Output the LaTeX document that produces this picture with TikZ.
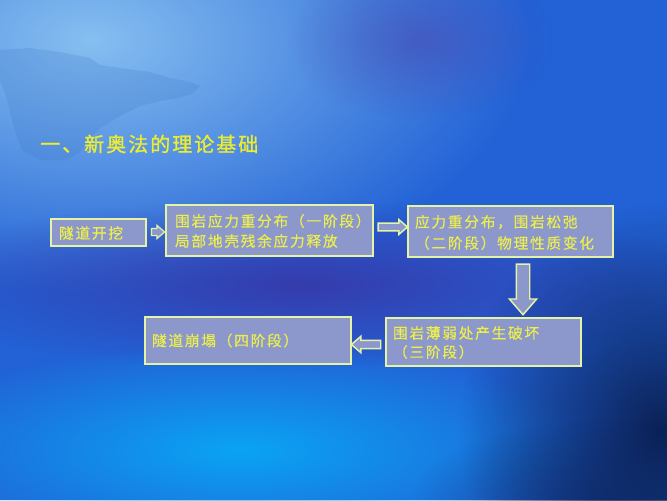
\documentclass[tikz,border=0pt]{standalone}
\usepackage{fontspec}
\setmainfont{Noto Sans CJK SC}
\newfontfamily\boxfont[LetterSpace=12,FakeBold=0.5]{Noto Sans CJK SC}
\newfontfamily\titlefont[LetterSpace=10,FakeBold=1.2]{Noto Sans CJK SC}
\usetikzlibrary{shapes.arrows,calc,fadings}
\tikzfading[name=softblob, inner color=transparent!0, outer color=transparent!100]
\definecolor{bgbase}{HTML}{2262D6}
\definecolor{bglight}{HTML}{8CC4F2}
\definecolor{bgpurple}{HTML}{3838A8}
\definecolor{bgpurple2}{HTML}{4650B8}
\definecolor{bgcyan}{HTML}{0AA4F4}
\definecolor{bgdark}{HTML}{0A1E50}
\definecolor{boxfill}{HTML}{8C98CC}
\definecolor{edgecol}{HTML}{E4F4A4}
\definecolor{txtcol}{HTML}{ECEE4C}
\definecolor{titlecol}{HTML}{ECEC30}
\definecolor{mapcol}{HTML}{3A74C4}
\tikzset{
  x=0.75pt, y=-0.75pt,
  stagebox/.style={draw=edgecol, fill=boxfill, line width=1.8pt, inner sep=0pt},
  lbl/.style={anchor=west, inner sep=0pt, text=txtcol, font=\boxfont\fontsize{11pt}{13pt}\selectfont},
  hollowarrow/.style={single arrow, draw=edgecol, fill=boxfill, line width=1.1pt, single arrow tip angle=82},
  blob/.style={path fading=softblob}
}
\begin{document}
\begin{tikzpicture}
% background
\useasboundingbox (0,0) rectangle (667,500);
\fill[bgbase] (0,0) rectangle (667,500);
\begin{scope}
\clip (0,0) rectangle (667,500);
\fill[bglight, blob, fill opacity=0.95] (90,40) ellipse [x radius=330pt, y radius=190pt];
\fill[bgpurple2, blob, fill opacity=0.7] (420,40) ellipse [x radius=100pt, y radius=60pt];
\fill[bgpurple, blob, fill opacity=0.9] (300,285) ellipse [x radius=310pt, y radius=65pt];
\fill[bgcyan, blob, fill opacity=1] (240,450) ellipse [x radius=270pt, y radius=80pt];
\fill[bgdark, blob, fill opacity=0.95] (660,430) ellipse [x radius=150pt, y radius=170pt];
\fill[bgdark, blob, fill opacity=0.5] (600,500) ellipse [x radius=140pt, y radius=60pt];
% faint map silhouette
\fill[mapcol, fill opacity=0.2] (0,50) -- (30,48) -- (60,52) -- (90,58) -- (100,65) -- (120,68)
  -- (150,72) -- (170,78) -- (190,82) -- (200,86) -- (192,94) -- (178,98) -- (160,101)
  -- (140,106) -- (120,116) -- (100,128) -- (88,140) -- (80,152) -- (66,160) -- (40,160)
  -- (22,150) -- (14,128) -- (6,96) -- (0,80) -- cycle;
\end{scope}
% title
\node[anchor=west, inner sep=0pt, text=titlecol, font=\titlefont\fontsize{15pt}{18pt}\selectfont] (title) at (40,144) {一、新奥法的理论基础};
% boxes
\node[stagebox, minimum width=71.25pt, minimum height=20.25pt] (A) at (98.5,232.5) {};
\node[stagebox, minimum width=155.25pt, minimum height=38.25pt] (B) at (269.5,230.5) {};
\node[stagebox, minimum width=153.75pt, minimum height=38.25pt] (C) at (510.5,231.5) {};
\node[stagebox, minimum width=146.25pt, minimum height=36pt] (D) at (483.5,342) {};
\node[stagebox, minimum width=154.5pt, minimum height=35.25pt] (E) at (248,340.5) {};
% labels
\node[lbl] (tA) at ($(A.west)+(9,0.5)$) {隧道开挖};
\node[lbl] (tB1) at ($(B.west)+(10,-9.5)$) {围岩应力重分布（一阶段）};
\node[lbl] (tB2) at ($(B.west)+(10,10.5)$) {局部地壳残余应力释放};
\node[lbl] (tC1) at ($(C.west)+(8,-9.5)$) {应力重分布，围岩松弛};
\node[lbl] (tC2) at ($(C.west)+(8,11.5)$) {（二阶段）物理性质变化};
\node[lbl] (tD1) at ($(D.west)+(8,-9)$) {围岩薄弱处产生破坏};
\node[lbl] (tD2) at ($(D.west)+(8,10)$) {（三阶段）};
\node[lbl] (tE) at ($(E.west)+(8,0)$) {隧道崩塌（四阶段）};
% connectors
\node[hollowarrow, inner xsep=0pt, minimum height=9.75pt, inner ysep=2.25pt, single arrow head extend=2.25pt, line width=0.9pt]
  (aAB) at ($(A.east)!0.5!(B.west |- A.east)+(0,-0.5)$) {};
\node[hollowarrow, inner xsep=0pt, minimum height=22pt, inner ysep=2.4pt, single arrow head extend=2.7pt]
  (aBC) at ($(B.east |- 0,227)!0.5!(C.west |- 0,227)$) {};
\node[hollowarrow, inner ysep=0pt, minimum height=38pt, inner xsep=4.5pt, single arrow head extend=5.2pt, shape border rotate=270]
  (aCD) at ($(C.south -| 523,0)!0.5!(D.north -| 523,0)+(0,-2)$) {};
\node[hollowarrow, inner xsep=0pt, minimum height=22pt, inner ysep=2.6pt, single arrow head extend=3pt, shape border rotate=180]
  (aDE) at ($(D.west |- 0,344.5)!0.5!(E.east |- 0,344.5)$) {};
\end{tikzpicture}
\end{document}
